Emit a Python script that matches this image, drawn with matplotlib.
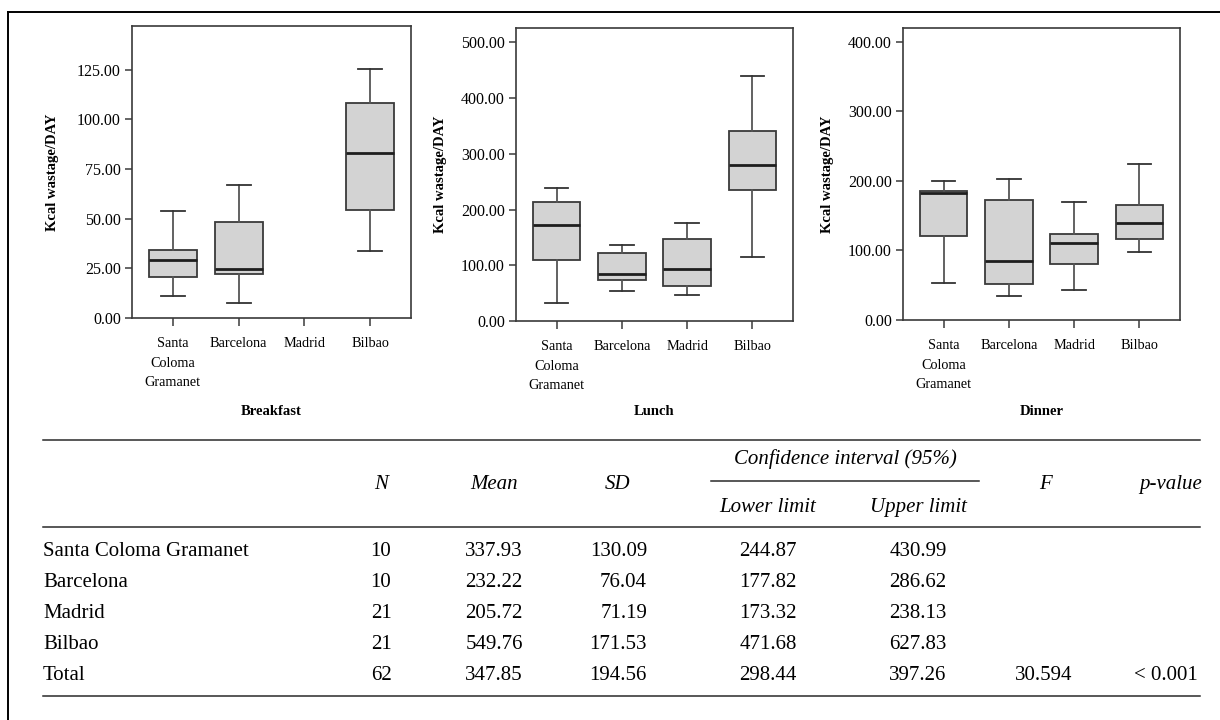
import matplotlib
matplotlib.use("Agg")
import matplotlib.pyplot as plt

plt.rcParams['font.family'] = ['Liberation Serif', 'DejaVu Serif']

# box plot five-number summaries: [low whisker, Q1, median, Q3, high whisker]
cities = ["Santa\nColoma\nGramanet", "Barcelona", "Madrid", "Bilbao"]
breakfast = [[10.9, 20.5, 29.1, 34.4, 54.1],
             [7.7, 22.3, 24.5, 48.2, 67.2],
             None,
             [33.8, 54.4, 83.2, 108.0, 125.5]]
lunch = [[31.8, 109.0, 171.9, 213.2, 239.5],
         [53.9, 73.6, 85.0, 122.7, 136.5],
         [47.3, 62.3, 94.0, 146.8, 175.5],
         [115.5, 235.3, 280.8, 341.3, 439.5]]
dinner = [[53.1, 121.5, 182.3, 185.6, 200.0],
          [34.4, 51.2, 84.3, 173.2, 202.9],
          [43.1, 79.9, 111.0, 123.0, 169.4],
          [97.6, 115.8, 139.2, 165.5, 224.9]]

# table values
places = ["Santa Coloma Gramanet", "Barcelona", "Madrid", "Bilbao", "Total"]
n_vals = [10, 10, 21, 21, 62]
mean_vals = [337.93, 232.22, 205.72, 549.76, 347.85]
sd_vals = [130.09, 76.04, 71.19, 171.53, 194.56]
lower_vals = [244.87, 177.82, 173.32, 471.68, 298.44]
upper_vals = [430.99, 286.62, 238.13, 627.83, 397.26]
f_val = "30.594"
p_val = "< 0.001"

DARK = '#3a3a3a'
W, H = 1220, 720

fig = plt.figure(figsize=(12.2, 7.2), dpi=100)


def px_axes(left, top, right, bottom):
    return fig.add_axes([left / W, 1 - bottom / H, (right - left) / W, (bottom - top) / H])


panels = [
    ("Breakfast", breakfast, (132, 26, 411, 318), 147, 25, -0.262, -0.297),
    ("Lunch", lunch, (516, 28, 793, 321), 526, 100, -0.249, -0.287),
    ("Dinner", dinner, (903, 28, 1180, 320), 420, 100, -0.249, -0.291),
]

for title, summary, box, ymax, step, ylab_x, xlab_y in panels:
    ax = px_axes(*box)
    stats, pos = [], []
    for i, s in enumerate(summary):
        if s is None:
            continue
        stats.append(dict(whislo=s[0], q1=s[1], med=s[2], q3=s[3], whishi=s[4], fliers=[]))
        pos.append(i + 1)
    ax.bxp(stats, positions=pos, widths=0.73, capwidths=0.365, patch_artist=True,
           showfliers=False,
           boxprops=dict(facecolor='#d3d3d3', edgecolor=DARK, linewidth=1.3),
           medianprops=dict(color='#1e1e1e', linewidth=2.0),
           whiskerprops=dict(color='#555555', linewidth=1.3),
           capprops=dict(color='#333333', linewidth=1.3))
    ax.set_xlim(0.38, 4.62)
    ax.set_ylim(0, ymax)
    ax.set_yticks(range(0, int(ymax) + 1, step))
    ax.set_yticklabels([f"{v:.2f}" for v in range(0, int(ymax) + 1, step)], fontsize=11.5)
    ax.set_xticks([1, 2, 3, 4])
    ax.set_xticklabels(cities, fontsize=10.3, linespacing=1.65, va='top')
    ax.tick_params(axis='y', direction='out', length=5, width=1.1, color=DARK, pad=3)
    ax.tick_params(axis='x', direction='out', length=6, width=1.1, color=DARK, pad=8)
    for sp in ax.spines.values():
        sp.set_color(DARK)
        sp.set_linewidth(1.2)
    ax.set_ylabel("Kcal wastage/DAY", fontsize=10.5, fontweight='bold')
    ax.yaxis.set_label_coords(ylab_x, 0.5)
    ax.set_xlabel(title, fontsize=10.5, fontweight='bold')
    ax.xaxis.set_label_coords(0.5, xlab_y)

# table and outer frame drawn in pixel coordinates
tab = fig.add_axes([0, 0, 1, 1])
tab.set_xlim(0, W)
tab.set_ylim(H, 0)
tab.axis('off')

tab.plot([8, W], [12, 12], color='black', lw=1.4)
tab.plot([8, 8], [12, H], color='black', lw=1.4)

for y in (440, 527, 696):
    tab.plot([43, 1200], [y, y], color='#2a2a2a', lw=1.1)
tab.plot([711, 979], [481, 481], color='#2a2a2a', lw=1.1)

fs = 15
hdr = dict(fontsize=fs, style='italic', va='baseline', ha='center')
tab.text(381, 489, "N", **hdr)
tab.text(494, 489, "Mean", **hdr)
tab.text(618, 489, "SD", **hdr)
tab.text(845, 464, "Confidence interval (95%)", **hdr)
tab.text(768, 512, "Lower limit", **hdr)
tab.text(918, 512, "Upper limit", **hdr)
tab.text(1045, 489, "F", **hdr)
tab.text(1171, 489, "p-value", **hdr)

row_y = [556, 587, 618, 649, 680]
for i, y in enumerate(row_y):
    tab.text(43, y, places[i], fontsize=fs, va='baseline', ha='left')
    tab.text(381, y, str(n_vals[i]), fontsize=fs, va='baseline', ha='center')
    tab.text(494, y, f"{mean_vals[i]:.2f}", fontsize=fs, va='baseline', ha='center')
    tab.text(647, y, f"{sd_vals[i]:.2f}", fontsize=fs, va='baseline', ha='right')
    tab.text(768, y, f"{lower_vals[i]:.2f}", fontsize=fs, va='baseline', ha='center')
    tab.text(918, y, f"{upper_vals[i]:.2f}", fontsize=fs, va='baseline', ha='center')
tab.text(1044, row_y[-1], f_val, fontsize=fs, va='baseline', ha='center')
tab.text(1198, row_y[-1], p_val, fontsize=fs, va='baseline', ha='right')

fig.savefig("out.png", dpi=100)
